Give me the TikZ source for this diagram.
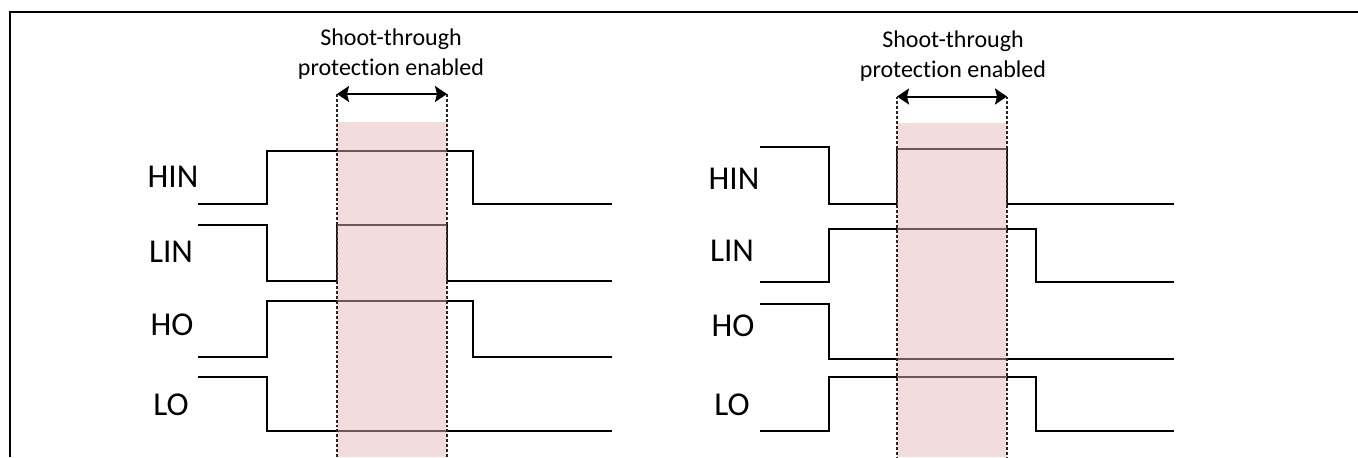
\documentclass[tikz,border=0pt]{standalone}
\usepackage{fontspec}
\setmainfont[Ligatures=NoCommon]{Carlito}
\usetikzlibrary{arrows.meta}
\definecolor{bandpink}{RGB}{229,183,181}
\tikzset{
  sig/.style={draw=black, line width=1.5pt, line join=miter},
  band/.style={fill=bandpink, fill opacity=0.48, draw=none},
  guide/.style={draw=black!85, line width=1.1pt, dash pattern=on 2.2pt off 1.5pt},
  span/.style={draw=black, line width=1.5pt, {Stealth[length=9pt,width=12pt,inset=1.5pt]}-{Stealth[length=9pt,width=12pt,inset=1.5pt]}},
  lbl/.style={inner sep=0pt, anchor=center, font=\fontsize{25}{30}\selectfont},
  ttl/.style={inner sep=0pt, anchor=base, font=\fontsize{18}{22}\selectfont},
  frame/.style={draw=black, line width=2.2pt}
}
\begin{document}
\begin{tikzpicture}[x=0.75pt, y=-0.75pt]
\useasboundingbox (0,0) rectangle (1358,457);
% frame (top and left edges)
\draw[frame] (10,457) -- (10,12) -- (1358,12);

% ---------------- left panel ----------------
\node[lbl] (lhin) at (173,177) {HIN};
\node[lbl] (llin) at (171,252) {LIN};
\node[lbl] (lho)  at (172,325) {HO};
\node[lbl] (llo)  at (171,405) {LO};

\draw[sig] (198,204) -- (267,204) -- (267,151) -- (473,151) -- (473,204) -- (612,204);
\draw[sig] (198,225) -- (267,225) -- (267,281) -- (337,281) -- (337,225) -- (447,225) -- (447,281) -- (612,281);
\draw[sig] (198,357) -- (267,357) -- (267,301) -- (473,301) -- (473,357) -- (612,357);
\draw[sig] (198,377) -- (267,377) -- (267,431) -- (612,431);

\fill[band] (337,122) rectangle (447,457);
\coordinate (la) at (337,94);
\coordinate (lb) at (447,94);
\draw[guide] (la) -- (337,457);
\draw[guide] (lb) -- (447,457);
\draw[span] (la) -- (lb);
\node[ttl] (lt1) at (391,45) {Shoot-through};
\node[ttl] (lt2) at (391,75) {protection enabled};

% ---------------- right panel ----------------
\node[lbl] (rhin) at (734,179) {HIN};
\node[lbl] (rlin) at (732,251) {LIN};
\node[lbl] (rho)  at (733,326) {HO};
\node[lbl] (rlo)  at (732,405) {LO};

\draw[sig] (760,147) -- (829,147) -- (829,204) -- (897,204) -- (897,149) -- (1007,149) -- (1007,204) -- (1174,204);
\draw[sig] (760,282) -- (829,282) -- (829,229) -- (1036,229) -- (1036,282) -- (1174,282);
\draw[sig] (760,304) -- (829,304) -- (829,359) -- (1174,359);
\draw[sig] (760,431) -- (829,431) -- (829,377) -- (1036,377) -- (1036,431) -- (1174,431);

\fill[band] (897,123) rectangle (1007,457);
\coordinate (ra) at (897,96.5);
\coordinate (rb) at (1007,96.5);
\draw[guide] (ra) -- (897,457);
\draw[guide] (rb) -- (1007,457);
\draw[span] (ra) -- (rb);
\node[ttl] (rt1) at (953,47) {Shoot-through};
\node[ttl] (rt2) at (953,77) {protection enabled};
\end{tikzpicture}
\end{document}
